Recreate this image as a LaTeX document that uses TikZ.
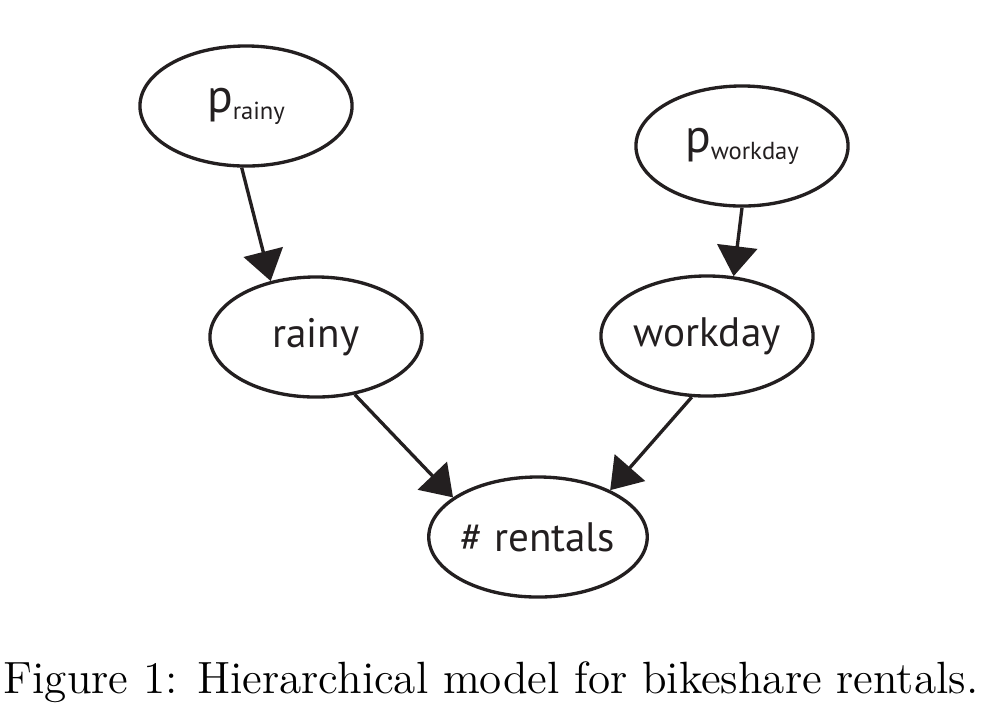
\documentclass[tikz,border=0pt]{standalone}
\usepackage{fontspec}
\newfontfamily\nodefont{PT Sans}
\usetikzlibrary{shapes.geometric,arrows.meta}
\definecolor{ink}{RGB}{35,31,32}
\begin{document}
\begin{tikzpicture}[x=0.01cm,y=-0.01cm,
        var/.style={ellipse,draw=ink,text=ink,line width=0.95pt,minimum width=2.12cm,minimum height=1.2cm,inner sep=0pt,font=\nodefont\fontsize{11.7}{14}\selectfont},
        dep/.style={draw=ink,line width=0.95pt,-{Triangle[width=0.4cm,length=0.3cm]}}]
            \useasboundingbox (0,0) rectangle (1000,726);

            \node[var] (prainy) at (246,106) { {\fontsize{13.5}{16}\selectfont p}\raisebox{-2pt}{\fontsize{7}{8}\selectfont rainy} };
            \node[var] (pworkday) at (742,146) { {\fontsize{13.5}{16}\selectfont p}\raisebox{-2pt}{\fontsize{7}{8}\selectfont workday} };

            \node[var] (rainy) at (316,337) { rainy };
            \node[var] (workday) at (707,336) { workday };

            \node[var] (rentals) at (538,537) { \# rentals };

            \draw[dep] (prainy.-94) -- (rainy.129);
            \draw[dep] (pworkday.-90) -- (workday.66);
            \draw[dep] (rainy.-56) -- (rentals.155);
            \draw[dep] (workday.-104) -- (rentals.33);

            \node[anchor=base] (caption) at (491,693) { \fontsize{12.85}{15}\selectfont Figure 1: Hierarchical model for bikeshare rentals. };
        \end{tikzpicture}
\end{document}
